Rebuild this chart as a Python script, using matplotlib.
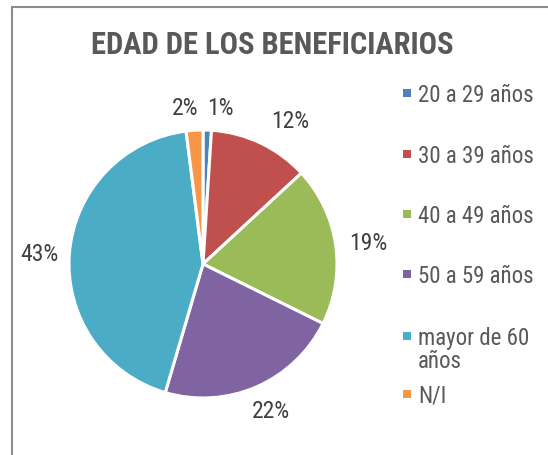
import textwrap
import matplotlib
matplotlib.use("Agg")
import matplotlib.pyplot as plt
from matplotlib.lines import Line2D
from matplotlib.patches import Rectangle

plt.rcParams['font.family'] = ['Roboto Condensed', 'Liberation Sans', 'DejaVu Sans']

title = "EDAD DE LOS BENEFICIARIOS"
categories = ["20 a 29 años", "30 a 39 años", "40 a 49 años", "50 a 59 años",
              "mayor de 60 años", "N/I"]
values = [1, 12, 19, 22, 43, 2]
colors = ["#4F81BD", "#C0504D", "#9BBB59", "#8064A2", "#4BACC6", "#F79646"]
# label anchor positions in pie-radius units (Excel outside-end placement)
label_pos = [(0.13, 1.17), (0.65, 1.07), (1.23, 0.16), (0.51, -1.09),
             (-1.22, 0.075), (-0.13, 1.17)]

W, H = 548, 456
fig = plt.figure(figsize=(W / 100, H / 100), dpi=100)
fig.patch.set_facecolor("white")

# chart border (left and top visible)
fig.add_artist(Line2D([12 / W, 12 / W], [0, 1 - 8 / H], transform=fig.transFigure,
                      color="#8C8C8C", lw=1.5))
fig.add_artist(Line2D([12 / W, 1], [1 - 8 / H, 1 - 8 / H], transform=fig.transFigure,
                      color="#8C8C8C", lw=1.5))

cx, cy, r = 203, 265, 134
ax = fig.add_axes([(cx - r) / W, (H - cy - r) / H, 2 * r / W, 2 * r / H])
wedges, _ = ax.pie(values, colors=colors, startangle=90, counterclock=False,
                   radius=1, wedgeprops=dict(edgecolor="white", linewidth=2.2))
ax.set_xlim(-1, 1)
ax.set_ylim(-1, 1)
ax.set_aspect("equal")
ax.axis("off")

total = sum(values)
for v, (lx, ly) in zip(values, label_pos):
    ax.text(lx, ly, f"{round(100 * v / total)}%", ha="center", va="center",
            fontsize=17, color="#404040", clip_on=False)

fig.text(272 / W, 1 - 45 / H, title, ha="center", va="center", fontsize=22,
         fontweight="bold", color="#595959")

legend_y = [94, 155, 215, 275, 337, 395]
for cat, col, y in zip(categories, colors, legend_y):
    fig.add_artist(Rectangle(((403) / W, 1 - (y + 4) / H), 8 / W, 8 / H,
                             transform=fig.transFigure, facecolor=col, edgecolor="none"))
    txt = "\n".join(textwrap.wrap(cat, 12))
    fig.text(418 / W, 1 - (y - 10) / H, txt, ha="left", va="top", fontsize=16.5,
             color="#595959", linespacing=1.0)

fig.savefig("out.png", dpi=100)
